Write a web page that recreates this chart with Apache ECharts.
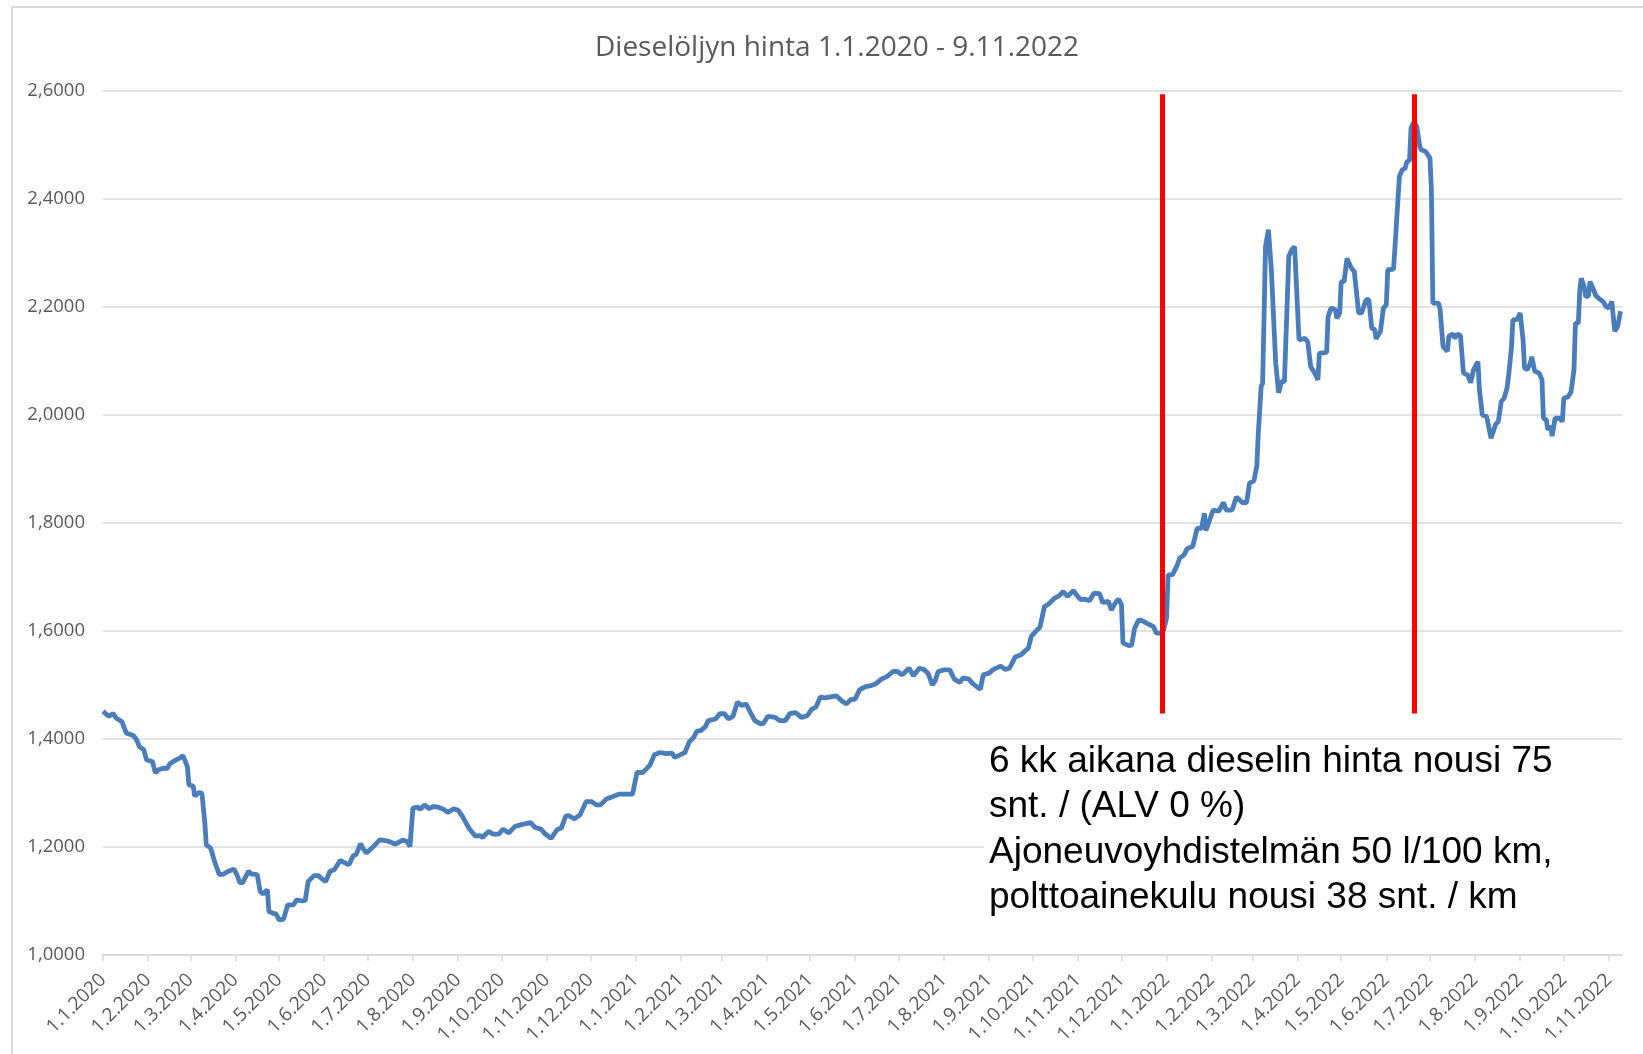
<!DOCTYPE html>
<html>
<head>
<meta charset="utf-8">
<title>Dieselöljyn hinta</title>
<script src="https://cdn.jsdelivr.net/npm/echarts@6/dist/echarts.min.js"></script>
<style>
    html, body { margin: 0; padding: 0; background: #fff; }
    #chart { width: 1643px; height: 1054px; }
</style>
</head>
<body>
<div id="chart"></div>
<script>
// päivät laskettu 1.1.2020 alkaen
const startDate = [2020, 0, 1]
const dayOffsets = [
    0, 4, 7, 9, 13, 16, 21, 23, 25, 28, 30, 34, 36, 38, 42, 44, 46, 50, 53, 55,
    58, 59, 62, 63, 66, 68, 70, 71, 74, 77, 80, 83, 86, 90, 92, 94, 96, 100, 102, 106,
    108, 110, 113, 114, 117, 119, 121, 124, 127, 131, 133, 137, 139, 141, 145, 148, 150, 153, 156, 159,
    163, 166, 169, 172, 174, 177, 179, 181, 184, 187, 190, 194, 197, 201, 204, 206, 209, 211, 213, 216,
    218, 221, 224, 227, 230, 234, 237, 241, 244, 247, 249, 252, 256, 259, 261, 265, 268, 272, 275, 279,
    283, 287, 290, 294, 297, 301, 304, 308, 312, 315, 318, 320, 324, 328, 332, 336, 339, 342, 346, 351,
    355, 360, 364, 367, 371, 374, 376, 379, 383, 387, 391, 393, 397, 400, 403, 406, 408, 411, 414, 416,
    421, 424, 427, 430, 433, 436, 439, 442, 445, 448, 452, 454, 457, 462, 465, 469, 472, 476, 480, 484,
    487, 490, 493, 496, 500, 504, 508, 511, 514, 517, 520, 524, 528, 531, 535, 539, 543, 546, 549, 551,
    554, 557, 561, 564, 567, 570, 572, 574, 578, 582, 585, 589, 591, 595, 598, 603, 605, 609, 612, 617,
    620, 623, 627, 631, 634, 636, 638, 642, 644, 647, 650, 654, 657, 660, 663, 667, 669, 672, 675, 678,
    681, 685, 687, 691, 693, 696, 698, 700, 701, 705, 707, 709, 712, 715, 719, 722, 724, 727, 729, 731,
    732, 735, 738, 740, 743, 745, 749, 752, 755, 757, 758, 760, 763, 767, 770, 772, 776, 779, 783, 786,
    788, 791, 793, 794, 796, 797, 799, 801, 803, 804, 806, 808, 810, 812, 815, 817, 819, 822, 826, 828,
    830, 833, 835, 836, 841, 842, 844, 847, 848, 850, 851, 853, 855, 858, 860, 863, 865, 868, 870, 872,
    874, 875, 878, 880, 882, 883, 887, 889, 891, 893, 895, 896, 898, 899, 901, 903, 905, 906, 909, 912,
    913, 914, 918, 919, 921, 922, 924, 925, 928, 929, 931, 933, 935, 938, 940, 942, 945, 946, 948, 951,
    954, 957, 959, 961, 963, 965, 966, 968, 969, 972, 974, 976, 977, 979, 981, 982, 984, 985, 987, 989,
    990, 992, 993, 995, 996, 998, 1001, 1003, 1004, 1007, 1009, 1011, 1012, 1014, 1015, 1016, 1018, 1019, 1021, 1022,
    1024, 1026, 1028, 1031, 1033, 1035, 1037, 1039, 1041, 1042, 1043
]
const prices = [
    1.451, 1.442, 1.447, 1.439, 1.432, 1.411, 1.406, 1.399, 1.386, 1.380, 1.361, 1.358, 1.337, 1.343, 1.346, 1.345, 1.354, 1.361, 1.365, 1.369,
    1.349, 1.315, 1.313, 1.294, 1.301, 1.299, 1.244, 1.204, 1.198, 1.170, 1.149, 1.150, 1.155, 1.159, 1.149, 1.134, 1.134, 1.155, 1.150, 1.149,
    1.118, 1.113, 1.121, 1.081, 1.077, 1.076, 1.065, 1.066, 1.093, 1.093, 1.102, 1.100, 1.101, 1.136, 1.147, 1.147, 1.142, 1.136, 1.155, 1.158,
    1.175, 1.171, 1.167, 1.184, 1.186, 1.206, 1.196, 1.189, 1.196, 1.204, 1.213, 1.212, 1.210, 1.205, 1.210, 1.213, 1.210, 1.201, 1.272, 1.274,
    1.270, 1.278, 1.271, 1.275, 1.274, 1.270, 1.264, 1.271, 1.268, 1.257, 1.247, 1.233, 1.220, 1.221, 1.218, 1.229, 1.224, 1.224, 1.233, 1.226,
    1.238, 1.241, 1.243, 1.245, 1.236, 1.233, 1.224, 1.216, 1.232, 1.235, 1.257, 1.258, 1.252, 1.260, 1.284, 1.284, 1.278, 1.278, 1.289, 1.294,
    1.298, 1.298, 1.298, 1.338, 1.338, 1.346, 1.352, 1.371, 1.375, 1.373, 1.374, 1.366, 1.371, 1.375, 1.395, 1.403, 1.414, 1.416, 1.423, 1.434,
    1.437, 1.447, 1.447, 1.437, 1.442, 1.468, 1.462, 1.465, 1.449, 1.434, 1.428, 1.429, 1.442, 1.440, 1.434, 1.434, 1.447, 1.449, 1.440, 1.443,
    1.455, 1.459, 1.478, 1.476, 1.478, 1.480, 1.470, 1.465, 1.473, 1.474, 1.491, 1.497, 1.499, 1.502, 1.511, 1.516, 1.525, 1.525, 1.519, 1.523,
    1.531, 1.517, 1.531, 1.529, 1.522, 1.500, 1.508, 1.525, 1.528, 1.528, 1.511, 1.505, 1.513, 1.511, 1.502, 1.492, 1.519, 1.522, 1.529, 1.535,
    1.529, 1.531, 1.552, 1.556, 1.564, 1.568, 1.590, 1.602, 1.607, 1.645, 1.650, 1.661, 1.665, 1.673, 1.664, 1.675, 1.667, 1.658, 1.659, 1.656,
    1.670, 1.669, 1.653, 1.655, 1.639, 1.653, 1.659, 1.649, 1.578, 1.573, 1.574, 1.605, 1.621, 1.618, 1.612, 1.608, 1.596, 1.596, 1.602, 1.624,
    1.704, 1.704, 1.720, 1.735, 1.741, 1.752, 1.757, 1.790, 1.790, 1.818, 1.786, 1.801, 1.824, 1.822, 1.838, 1.824, 1.824, 1.848, 1.838, 1.838,
    1.874, 1.878, 1.905, 1.965, 2.053, 2.058, 2.312, 2.343, 2.269, 2.269, 2.096, 2.041, 2.062, 2.062, 2.294, 2.306, 2.312, 2.139, 2.142, 2.136,
    2.090, 2.077, 2.065, 2.114, 2.116, 2.182, 2.198, 2.195, 2.179, 2.189, 2.247, 2.247, 2.290, 2.272, 2.266, 2.189, 2.189, 2.213, 2.214, 2.161,
    2.158, 2.141, 2.155, 2.198, 2.204, 2.269, 2.270, 2.355, 2.442, 2.454, 2.457, 2.468, 2.472, 2.531, 2.543, 2.534, 2.497, 2.491, 2.488, 2.476,
    2.417, 2.207, 2.207, 2.195, 2.127, 2.130, 2.118, 2.146, 2.150, 2.142, 2.150, 2.147, 2.078, 2.074, 2.060, 2.084, 2.099, 2.047, 2.000, 1.997,
    1.957, 1.982, 1.988, 2.025, 2.031, 2.050, 2.071, 2.124, 2.176, 2.177, 2.189, 2.139, 2.087, 2.084, 2.096, 2.108, 2.081, 2.079, 2.078, 2.065,
    1.994, 1.991, 1.973, 1.979, 1.961, 1.994, 1.994, 1.988, 2.031, 2.034, 2.043, 2.084, 2.170, 2.170, 2.232, 2.253, 2.238, 2.219, 2.221, 2.247,
    2.235, 2.221, 2.216, 2.210, 2.201, 2.198, 2.210, 2.155, 2.164, 2.165, 2.192
]
// punaiset pystyviivat (6 kk väli)
const markerDays = [728, 901]
const markerRange = [2.594, 1.447]
const yTicks = [1.0, 1.2, 1.4, 1.6, 1.8, 2.0, 2.2, 2.4, 2.6]
const noteLines = [
    '6 kk aikana dieselin hinta nousi 75',
    'snt. / (ALV 0 %)',
    'Ajoneuvoyhdistelmän 50 l/100 km,',
    'polttoainekulu nousi 38 snt. / km'
]

function dayToTime(d) {
    return new Date(startDate[0], startDate[1], startDate[2] + d).getTime()
}

let seriesData = dayOffsets.map((d, i) => [dayToTime(d), prices[i]])

// kuukauden ensimmäiset päivät 1.1.2020 - 1.11.2022
let monthTicks = []
for (let m = 0; m <= 34; m++) {
    monthTicks.push(new Date(2020, m, 1).getTime())
}

let markerData = markerDays.map(d => [
    { coord: [dayToTime(d), markerRange[0]] },
    { coord: [dayToTime(d), markerRange[1]] }
])

const gray = '#595959'
const lineGray = '#d9d9d9'

let myChart = echarts.init(document.getElementById('chart'))
let option = {
    backgroundColor: '#fff',
    animation: false,
    title: {
        text: 'Dieselöljyn hinta 1.1.2020 - 9.11.2022',
        left: 590,
        top: 29,
        textStyle: {
            fontFamily: 'Open Sans',
            fontSize: 28,
            fontWeight: 'normal',
            color: gray
        }
    },
    grid: {
        left: 103,
        right: 21,
        top: 91,
        bottom: 99,
        containLabel: false
    },
    xAxis: {
        type: 'value',
        min: dayToTime(0),
        max: new Date(2022, 10, 10).getTime(),
        axisLine: {
            show: true,
            lineStyle: { color: lineGray, width: 2 }
        },
        axisTick: {
            show: true,
            length: 6,
            customValues: monthTicks,
            lineStyle: { color: lineGray, width: 1.5 }
        },
        axisLabel: {
            customValues: monthTicks,
            rotate: 45,
            margin: 22,
            fontFamily: 'Open Sans',
            fontSize: 19,
            color: gray,
            formatter: function (value) {
                let d = new Date(value)
                return d.getDate() + '.' + (d.getMonth() + 1) + '.' + d.getFullYear()
            }
        },
        splitLine: { show: false }
    },
    yAxis: {
        type: 'value',
        min: yTicks[0],
        max: yTicks[yTicks.length - 1],
        interval: 0.2,
        axisLine: { show: false },
        axisTick: { show: false },
        axisLabel: {
            margin: 18,
            fontFamily: 'Open Sans',
            fontSize: 18.5,
            color: gray,
            formatter: function (value) {
                return value.toFixed(4).replace('.', ',')
            }
        },
        splitLine: {
            lineStyle: { color: lineGray, width: 1.5 }
        }
    },
    series: [
        {
            type: 'line',
            data: seriesData,
            showSymbol: false,
            symbol: 'none',
            lineStyle: { color: '#4a7ebb', width: 4.8 },
            itemStyle: { color: '#4a7ebb' },
            markLine: {
                silent: true,
                symbol: ['none', 'none'],
                label: { show: false },
                lineStyle: { color: '#ff0000', width: 5, type: 'solid' },
                data: markerData
            }
        }
    ],
    graphic: [
        {
            type: 'rect',
            shape: { x: 12, y: 7, width: 1700, height: 1100 },
            style: { fill: 'none', stroke: lineGray, lineWidth: 2 },
            silent: true
        },
        {
            type: 'rect',
            shape: { x: 984, y: 742, width: 640, height: 180 },
            style: { fill: '#fff' },
            z: 10,
            silent: true
        },
        {
            type: 'text',
            left: 989,
            top: 739,
            z: 11,
            style: {
                text: noteLines.join('\n'),
                font: '37px "Liberation Sans", Arial, sans-serif',
                lineHeight: 45.5,
                fill: '#000'
            }
        }
    ]
}
myChart.setOption(option)
</script>
</body>
</html>
